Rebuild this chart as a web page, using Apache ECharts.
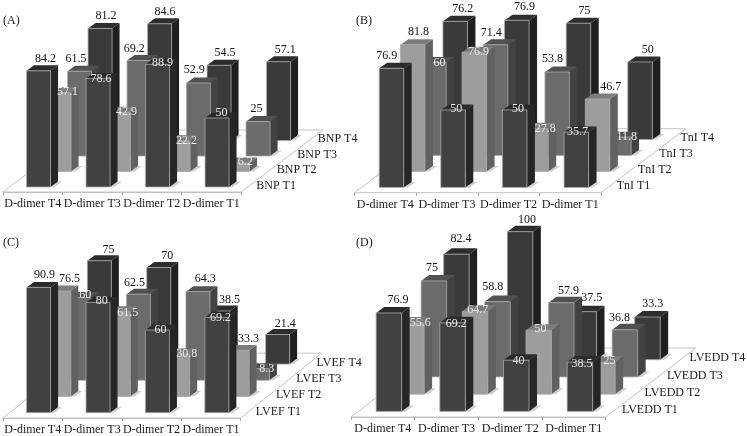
<!DOCTYPE html>
<html>
<head>
<meta charset="utf-8">
<style>html,body{margin:0;padding:0;background:#fff}#chart{width:747px;height:436px}</style>
<script src="https://cdn.jsdelivr.net/npm/echarts@6/dist/echarts.min.js"></script>
</head>
<body>
<div id="chart"></div>
<script>
// x axis, same in all panels
var categories = ['D-dimer T4', 'D-dimer T3', 'D-dimer T2', 'D-dimer T1'];

// panel A
var bnpRows = ['BNP T1', 'BNP T2', 'BNP T3', 'BNP T4'];
var bnpT1 = [84.2, 78.6, 88.9, 50];
var bnpT2 = [57.1, 42.9, 22.2, 6.2];
var bnpT3 = [61.5, 69.2, 52.9, 25];
var bnpT4 = [81.2, 84.6, 54.5, 57.1];

// panel B
var tniRows = ['TnI T1', 'TnI T2', 'TnI T3', 'TnI T4'];
var tniT1 = [76.9, 50, 50, 35.7];
var tniT2 = [81.8, 76.9, 27.8, 46.7];
var tniT3 = [60, 71.4, 53.8, 11.8];
var tniT4 = [76.2, 76.9, 75, 50];

// panel C
var lvefRows = ['LVEF T1', 'LVEF T2', 'LVEF T3', 'LVEF T4'];
var lvefT1 = [90.9, 80, 60, 69.2];
var lvefT2 = [76.5, 61.5, 30.8, 33.3];
var lvefT3 = [60, 62.5, 64.3, 8.3];
var lvefT4 = [75, 70, 38.5, 21.4];

// panel D
var lveddRows = ['LVEDD T1', 'LVEDD T2', 'LVEDD T3', 'LVEDD T4'];
var lveddT1 = [76.9, 69.2, 40, 38.5];
var lveddT2 = [55.6, 64.7, 50, 25];
var lveddT3 = [75, 58.8, 57.9, 36.8];
var lveddT4 = [82.4, 100, 37.5, 33.3];

// which labels are white: row, then column (1 = white)
var whiteA = [[0, 1, 1, 1], [1, 1, 1, 1], [0, 0, 0, 0], [0, 0, 0, 0]];
var whiteB = [[0, 1, 1, 1], [0, 1, 1, 0], [1, 0, 0, 1], [0, 0, 0, 0]];
var whiteC = [[0, 1, 1, 1], [0, 1, 1, 0], [1, 0, 0, 1], [0, 0, 0, 0]];
var whiteD = [[0, 1, 1, 1], [1, 1, 1, 1], [0, 0, 0, 0], [0, 0, 0, 0]];

// labels were placed by hand in the original: [dx, dy] from the top of the front face
var nudgeA = [
  [[7, -11.5], [3, 0], [5, -1], [4.5, -4.7]],
  [[8.5, -0.4], [8, -0.6], [8.5, 0], [7.7, -0.7]],
  [[-3.5, -11.8], [-4.7, -11.5], [-4.2, -13], [-1.5, -12.2]],
  [[6, -12.7], [5.5, -11.5], [6, -12.6], [6.7, -11.7]]
];
var nudgeB = [
  [[-4.6, -12.3], [3.2, -1], [3.2, -1], [1.3, 0]],
  [[5.9, -12.4], [4.2, -0.6], [9.3, 0], [13.3, -12.3]],
  [[5.6, 0], [-4.3, -12], [-4.6, -12.8], [8, -0.5]],
  [[7.6, -12], [7.7, -13.6], [6.1, -12.2], [7.8, -12]]
];
var nudgeC = [
  [[5.9, -12.8], [3.8, -1.2], [3, -0.6], [3.6, 0.5]],
  [[10.7, -12.2], [9.6, 1], [9.1, 0], [11.4, -11.3]],
  [[6.1, -2.5], [-4, -11.4], [7.2, -12.9], [9.4, 0]],
  [[9.2, -11.2], [8.5, -11.5], [11.3, -11], [7.6, -11]]
];
var nudgeD = [
  [[9, -12.7], [3.6, 1.2], [2.2, 0.5], [2.2, 1.9]],
  [[8.8, -0.6], [2.7, -1], [1.7, -1.1], [7, -0.8]],
  [[-2, -12.9], [-4.7, -14.6], [7.2, -12.1], [-5.5, -11.8]],
  [[4.7, -15.4], [7, -12], [8, -13.6], [5.3, -13.3]]
];

/**bar faces by row */
var faces = [
  { front: '#414141', side: '#262626', top: '#2b2b2b' },
  { front: '#9d9d9d', side: '#616161', top: '#7c7c7c' },
  { front: '#6b6b6b', side: '#424242', top: '#515151' },
  { front: '#3a3a3a', side: '#1f1f1f', top: '#2d2d2d' }
];
var FONT = '"Liberation Serif", "Times New Roman", serif';

/**geometry of each panel, pixels */
var panels = [
  { name: '(A)', tx: 3, ty: 15, left: 3, right: 241, bottom: 192, height: 138, rowDx: 20.5, rowDy: -15.5, barW: 24, depX: 7.5, depY: -5.5, shift: -0.7,
    rows: bnpRows, data: [bnpT1, bnpT2, bnpT3, bnpT4], white: whiteA, nudge: nudgeA },
  { name: '(B)', tx: 356, ty: 15, left: 354.5, right: 601, bottom: 192.7, height: 155, rowDx: 21.25, rowDy: -16, barW: 24.5, depX: 8, depY: -5.5, shift: -0.5,
    rows: tniRows, data: [tniT1, tniT2, tniT3, tniT4], white: whiteB, nudge: nudgeB },
  { name: '(C)', tx: 3, ty: 237, left: 3, right: 240.7, bottom: 418.7, height: 138.5, rowDx: 20.25, rowDy: -16.2, barW: 24, depX: 7.5, depY: -5.5, shift: -0.5,
    rows: lvefRows, data: [lvefT1, lvefT2, lvefT3, lvefT4], white: whiteC, nudge: nudgeC },
  { name: '(D)', tx: 356, ty: 237, left: 351, right: 605.7, bottom: 417, height: 128, rowDx: 22.5, rowDy: -17.25, barW: 25.5, depX: 8, depY: -6, shift: -1.2,
    rows: lveddRows, data: [lveddT1, lveddT2, lveddT3, lveddT4], white: whiteD, nudge: nudgeD }
];

function poly(points, fill, stroke) {
  return {
    type: 'polygon',
    shape: { points: points },
    style: { fill: fill, stroke: stroke || null, lineWidth: stroke ? 0.8 : 0 }
  };
}

/**floor plus the row names along its right edge */
function floorRender(p) {
  return function (params, api) {
    var cs = params.coordSys;
    var l = cs.x, r = cs.x + cs.width, b = cs.y + cs.height;
    var backX = 4 * p.rowDx, backY = 4 * p.rowDy;
    var kids = [{
      type: 'polygon',
      shape: { points: [[l, b], [r, b], [r + backX, b + backY], [l + backX, b + backY]] },
      style: { fill: '#fff', stroke: '#c4c4c4', lineWidth: 1 }
    }];
    p.rows.forEach(function (name, i) {
      kids.push({
        type: 'text',
        x: r + (i + 0.5) * p.rowDx + 5,
        y: b + (i + 0.5) * p.rowDy + 1.5,
        style: { text: name, fill: '#1a1a1a', font: '12px ' + FONT, textAlign: 'left', textVerticalAlign: 'middle' }
      });
    });
    return { type: 'group', children: kids };
  };
}

/**front face position of a bar, from the axis scales */
function barBox(p, row, api) {
  var col = api.value(0), val = api.value(1);
  var base = api.coord([col, 0]), tip = api.coord([col, val]);
  var x0 = base[0] + (row + 0.5) * p.rowDx - p.depX / 2 - p.barW / 2 + p.shift;
  var shiftY = (row + 0.5) * p.rowDy - p.depY / 2;
  return { col: col, val: val, x0: x0, x1: x0 + p.barW, y0: base[1] + shiftY, y1: tip[1] + shiftY };
}

function barRender(p, row) {
  return function (params, api) {
    var b = barBox(p, row, api), f = faces[row];
    var x0 = b.x0, x1 = b.x1, y0 = b.y0, y1 = b.y1, dx = p.depX, dy = p.depY;
    return {
      type: 'group',
      children: [
        poly([[x1, y0], [x1 + 4, y0], [x1 + dx + 4, y0 + dy], [x1 + dx, y0 + dy]], '#cfcfcf', null),
        poly([[x1, y0], [x1 + dx, y0 + dy], [x1 + dx, y1 + dy], [x1, y1]], f.side, null),
        poly([[x0, y1], [x1, y1], [x1 + dx, y1 + dy], [x0 + dx, y1 + dy]], f.top, null),
        poly([[x0, y0], [x1, y0], [x1, y1], [x0, y1]], f.front, '#a8a8a8')
      ]
    };
  };
}

/**value labels go in their own series so they stay over every bar */
function labelRender(p, row) {
  return function (params, api) {
    var b = barBox(p, row, api);
    var white = p.white[row][b.col], n = p.nudge[row][b.col];
    return {
      type: 'text',
      x: (b.x0 + b.x1) / 2 + n[0],
      y: b.y1 + n[1],
      style: {
        text: String(b.val), fill: white ? '#ececec' : '#111',
        font: '12px ' + FONT, textAlign: 'center', textVerticalAlign: 'middle'
      }
    };
  };
}

var grids = [], xAxes = [], yAxes = [], series = [], titles = [];
panels.forEach(function (p, n) {
  grids.push({ left: p.left, width: p.right - p.left, top: p.bottom - p.height, height: p.height, containLabel: false });
  xAxes.push({
    type: 'category', gridIndex: n, data: categories,
    axisLine: { lineStyle: { color: '#bdbdbd' } },
    axisTick: { show: true, length: 3, lineStyle: { color: '#a0a0a0' } },
    axisLabel: { color: '#1a1a1a', fontFamily: FONT, fontSize: 12, margin: 6, interval: 0 }
  });
  yAxes.push({ type: 'value', gridIndex: n, min: 0, max: 100, show: false });
  titles.push({
    text: p.name, left: p.tx, top: p.ty, padding: 0,
    textStyle: { color: '#1a1a1a', fontFamily: FONT, fontSize: 12, fontWeight: 'normal' }
  });
  series.push({
    type: 'custom', xAxisIndex: n, yAxisIndex: n, silent: true, z: 1,
    renderItem: floorRender(p), data: [[0, 0]]
  });
  // back row first so the front rows cover it
  for (var row = 3; row >= 0; row--) {
    var rowData = p.data[row].map(function (v, i) { return [i, v]; });
    series.push({
      type: 'custom', xAxisIndex: n, yAxisIndex: n, silent: true, z: 2,
      encode: { x: 0, y: 1 }, renderItem: barRender(p, row), data: rowData
    });
    series.push({
      type: 'custom', xAxisIndex: n, yAxisIndex: n, silent: true, z: 3,
      encode: { x: 0, y: 1 }, renderItem: labelRender(p, row), data: rowData
    });
  }
});

var chart = echarts.init(document.getElementById('chart'));
chart.setOption({
  animation: false,
  backgroundColor: '#fff',
  title: titles,
  tooltip: { show: false },
  grid: grids,
  xAxis: xAxes,
  yAxis: yAxes,
  series: series
});
</script>
</body>
</html>
